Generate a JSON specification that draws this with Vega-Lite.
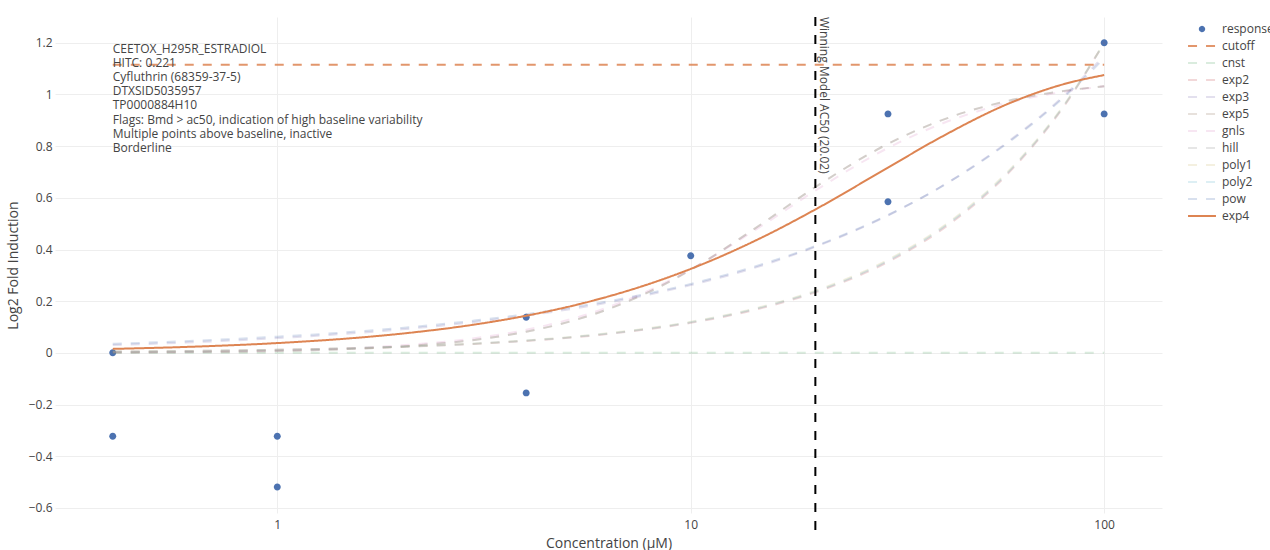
{
  "$schema": "https://vega.github.io/schema/vega-lite/v6.json",
  "width": 1107,
  "height": 496,
  "autosize": {"type": "none"},
  "padding": {"left": 55, "top": 17, "right": 108, "bottom": 37},
  "background": "white",
  "config": {
    "view": {"stroke": null},
    "font": "Open Sans",
    "axis": {"domain": false, "ticks": false, "gridColor": "#eeeeee", "gridWidth": 1, "labelFont": "Open Sans", "labelFontSize": 12, "labelColor": "#444444", "titleFont": "Open Sans", "titleFontSize": 14, "titleColor": "#444444", "titleFontWeight": "normal"},
    "legend": {"labelFont": "Open Sans", "labelFontSize": 12, "labelColor": "#444444"}
  },
  "datasets": {
    "obs": [
      {"series": "response", "conc": 0.4, "resp": 0.0},
      {"series": "response", "conc": 0.4, "resp": -0.323},
      {"series": "response", "conc": 1, "resp": -0.323},
      {"series": "response", "conc": 1, "resp": -0.519},
      {"series": "response", "conc": 4, "resp": 0.138},
      {"series": "response", "conc": 4, "resp": -0.155},
      {"series": "response", "conc": 10, "resp": 0.376},
      {"series": "response", "conc": 30, "resp": 0.925},
      {"series": "response", "conc": 30, "resp": 0.585},
      {"series": "response", "conc": 100, "resp": 1.2},
      {"series": "response", "conc": 100, "resp": 0.925}
    ],
    "fits": [
      {"series": "cutoff", "conc": 0.4, "resp": 1.115},
      {"series": "cutoff", "conc": 100, "resp": 1.115},
      {"series": "cnst", "conc": 0.4, "resp": 0},
      {"series": "cnst", "conc": 100, "resp": 0},
      {"series": "exp2", "conc": 0.4, "resp": 0.0046},
      {"series": "exp2", "conc": 0.6, "resp": 0.0069},
      {"series": "exp2", "conc": 1, "resp": 0.0115},
      {"series": "exp2", "conc": 1.5, "resp": 0.0173},
      {"series": "exp2", "conc": 2, "resp": 0.023},
      {"series": "exp2", "conc": 3, "resp": 0.0346},
      {"series": "exp2", "conc": 4, "resp": 0.046},
      {"series": "exp2", "conc": 6, "resp": 0.069},
      {"series": "exp2", "conc": 8, "resp": 0.093},
      {"series": "exp2", "conc": 10, "resp": 0.116},
      {"series": "exp2", "conc": 15, "resp": 0.175},
      {"series": "exp2", "conc": 20, "resp": 0.234},
      {"series": "exp2", "conc": 30, "resp": 0.352},
      {"series": "exp2", "conc": 40, "resp": 0.471},
      {"series": "exp2", "conc": 60, "resp": 0.712},
      {"series": "exp2", "conc": 80, "resp": 0.955},
      {"series": "exp2", "conc": 100, "resp": 1.2},
      {"series": "exp3", "conc": 0.4, "resp": 0.030},
      {"series": "exp3", "conc": 0.6, "resp": 0.040},
      {"series": "exp3", "conc": 1, "resp": 0.057},
      {"series": "exp3", "conc": 1.5, "resp": 0.075},
      {"series": "exp3", "conc": 2, "resp": 0.091},
      {"series": "exp3", "conc": 3, "resp": 0.119},
      {"series": "exp3", "conc": 4, "resp": 0.144},
      {"series": "exp3", "conc": 6, "resp": 0.188},
      {"series": "exp3", "conc": 8, "resp": 0.227},
      {"series": "exp3", "conc": 10, "resp": 0.262},
      {"series": "exp3", "conc": 15, "resp": 0.340},
      {"series": "exp3", "conc": 20, "resp": 0.410},
      {"series": "exp3", "conc": 30, "resp": 0.532},
      {"series": "exp3", "conc": 40, "resp": 0.640},
      {"series": "exp3", "conc": 60, "resp": 0.830},
      {"series": "exp3", "conc": 80, "resp": 0.995},
      {"series": "exp3", "conc": 100, "resp": 1.15},
      {"series": "exp5", "conc": 0.4, "resp": 0.0014},
      {"series": "exp5", "conc": 0.6, "resp": 0.0029},
      {"series": "exp5", "conc": 1, "resp": 0.0072},
      {"series": "exp5", "conc": 1.5, "resp": 0.0149},
      {"series": "exp5", "conc": 2, "resp": 0.0248},
      {"series": "exp5", "conc": 3, "resp": 0.0501},
      {"series": "exp5", "conc": 4, "resp": 0.0815},
      {"series": "exp5", "conc": 6, "resp": 0.1563},
      {"series": "exp5", "conc": 8, "resp": 0.2387},
      {"series": "exp5", "conc": 10, "resp": 0.3213},
      {"series": "exp5", "conc": 15, "resp": 0.504},
      {"series": "exp5", "conc": 20, "resp": 0.6411},
      {"series": "exp5", "conc": 30, "resp": 0.8089},
      {"series": "exp5", "conc": 40, "resp": 0.8975},
      {"series": "exp5", "conc": 60, "resp": 0.9793},
      {"series": "exp5", "conc": 80, "resp": 1.014},
      {"series": "exp5", "conc": 100, "resp": 1.0319},
      {"series": "gnls", "conc": 0.4, "resp": 0.0019},
      {"series": "gnls", "conc": 0.6, "resp": 0.0039},
      {"series": "gnls", "conc": 1, "resp": 0.0091},
      {"series": "gnls", "conc": 1.5, "resp": 0.018},
      {"series": "gnls", "conc": 2, "resp": 0.0291},
      {"series": "gnls", "conc": 3, "resp": 0.0564},
      {"series": "gnls", "conc": 4, "resp": 0.0891},
      {"series": "gnls", "conc": 6, "resp": 0.1641},
      {"series": "gnls", "conc": 8, "resp": 0.2441},
      {"series": "gnls", "conc": 10, "resp": 0.3231},
      {"series": "gnls", "conc": 15, "resp": 0.4963},
      {"series": "gnls", "conc": 20, "resp": 0.6276},
      {"series": "gnls", "conc": 30, "resp": 0.793},
      {"series": "gnls", "conc": 40, "resp": 0.8838},
      {"series": "gnls", "conc": 60, "resp": 0.9718},
      {"series": "gnls", "conc": 80, "resp": 1.011},
      {"series": "gnls", "conc": 100, "resp": 1.0318},
      {"series": "hill", "conc": 0.4, "resp": 0.0014},
      {"series": "hill", "conc": 0.6, "resp": 0.0029},
      {"series": "hill", "conc": 1, "resp": 0.0072},
      {"series": "hill", "conc": 1.5, "resp": 0.0149},
      {"series": "hill", "conc": 2, "resp": 0.0248},
      {"series": "hill", "conc": 3, "resp": 0.0501},
      {"series": "hill", "conc": 4, "resp": 0.0815},
      {"series": "hill", "conc": 6, "resp": 0.1563},
      {"series": "hill", "conc": 8, "resp": 0.2387},
      {"series": "hill", "conc": 10, "resp": 0.3213},
      {"series": "hill", "conc": 15, "resp": 0.504},
      {"series": "hill", "conc": 20, "resp": 0.6411},
      {"series": "hill", "conc": 30, "resp": 0.8089},
      {"series": "hill", "conc": 40, "resp": 0.8975},
      {"series": "hill", "conc": 60, "resp": 0.9793},
      {"series": "hill", "conc": 80, "resp": 1.014},
      {"series": "hill", "conc": 100, "resp": 1.0319},
      {"series": "poly1", "conc": 0.4, "resp": 0.0048},
      {"series": "poly1", "conc": 0.6, "resp": 0.0072},
      {"series": "poly1", "conc": 1, "resp": 0.012},
      {"series": "poly1", "conc": 1.5, "resp": 0.018},
      {"series": "poly1", "conc": 2, "resp": 0.024},
      {"series": "poly1", "conc": 3, "resp": 0.036},
      {"series": "poly1", "conc": 4, "resp": 0.048},
      {"series": "poly1", "conc": 6, "resp": 0.072},
      {"series": "poly1", "conc": 8, "resp": 0.096},
      {"series": "poly1", "conc": 10, "resp": 0.12},
      {"series": "poly1", "conc": 15, "resp": 0.18},
      {"series": "poly1", "conc": 20, "resp": 0.24},
      {"series": "poly1", "conc": 30, "resp": 0.36},
      {"series": "poly1", "conc": 40, "resp": 0.48},
      {"series": "poly1", "conc": 60, "resp": 0.72},
      {"series": "poly1", "conc": 80, "resp": 0.96},
      {"series": "poly1", "conc": 100, "resp": 1.2},
      {"series": "poly2", "conc": 0.4, "resp": 0.0047},
      {"series": "poly2", "conc": 0.6, "resp": 0.0071},
      {"series": "poly2", "conc": 1, "resp": 0.0118},
      {"series": "poly2", "conc": 1.5, "resp": 0.0177},
      {"series": "poly2", "conc": 2, "resp": 0.0236},
      {"series": "poly2", "conc": 3, "resp": 0.0354},
      {"series": "poly2", "conc": 4, "resp": 0.0472},
      {"series": "poly2", "conc": 6, "resp": 0.0709},
      {"series": "poly2", "conc": 8, "resp": 0.0945},
      {"series": "poly2", "conc": 10, "resp": 0.118},
      {"series": "poly2", "conc": 15, "resp": 0.178},
      {"series": "poly2", "conc": 20, "resp": 0.237},
      {"series": "poly2", "conc": 30, "resp": 0.356},
      {"series": "poly2", "conc": 40, "resp": 0.476},
      {"series": "poly2", "conc": 60, "resp": 0.716},
      {"series": "poly2", "conc": 80, "resp": 0.958},
      {"series": "poly2", "conc": 100, "resp": 1.2},
      {"series": "pow", "conc": 0.4, "resp": 0.035},
      {"series": "pow", "conc": 0.6, "resp": 0.0452},
      {"series": "pow", "conc": 1, "resp": 0.0624},
      {"series": "pow", "conc": 1.5, "resp": 0.0806},
      {"series": "pow", "conc": 2, "resp": 0.0966},
      {"series": "pow", "conc": 3, "resp": 0.1248},
      {"series": "pow", "conc": 4, "resp": 0.1496},
      {"series": "pow", "conc": 6, "resp": 0.1932},
      {"series": "pow", "conc": 8, "resp": 0.2317},
      {"series": "pow", "conc": 10, "resp": 0.2667},
      {"series": "pow", "conc": 15, "resp": 0.3445},
      {"series": "pow", "conc": 20, "resp": 0.413},
      {"series": "pow", "conc": 30, "resp": 0.5335},
      {"series": "pow", "conc": 40, "resp": 0.6397},
      {"series": "pow", "conc": 60, "resp": 0.8263},
      {"series": "pow", "conc": 80, "resp": 0.9905},
      {"series": "pow", "conc": 100, "resp": 1.14},
      {"series": "exp4", "conc": 0.4, "resp": 0.0153},
      {"series": "exp4", "conc": 0.6, "resp": 0.0228},
      {"series": "exp4", "conc": 1, "resp": 0.0378},
      {"series": "exp4", "conc": 1.5, "resp": 0.0562},
      {"series": "exp4", "conc": 2, "resp": 0.0743},
      {"series": "exp4", "conc": 3, "resp": 0.1095},
      {"series": "exp4", "conc": 4, "resp": 0.1436},
      {"series": "exp4", "conc": 6, "resp": 0.2082},
      {"series": "exp4", "conc": 8, "resp": 0.2686},
      {"series": "exp4", "conc": 10, "resp": 0.3249},
      {"series": "exp4", "conc": 15, "resp": 0.4497},
      {"series": "exp4", "conc": 20, "resp": 0.5546},
      {"series": "exp4", "conc": 30, "resp": 0.7171},
      {"series": "exp4", "conc": 40, "resp": 0.8321},
      {"series": "exp4", "conc": 60, "resp": 0.971},
      {"series": "exp4", "conc": 80, "resp": 1.0404},
      {"series": "exp4", "conc": 100, "resp": 1.0752}
    ],
    "notes": [
      {"label": "CEETOX_H295R_ESTRADIOL\nHITC: 0.221\nCyfluthrin (68359-37-5)\nDTXSID5035957\nTP0000884H10\nFlags: Bmd > ac50, indication of high baseline variability\nMultiple points above baseline, inactive\nBorderline"}
    ],
    "ac50": [
      {"label": "Winning Model AC50 (20.02)", "ac50": 20.02}
    ]
  },
  "layer": [
    {
      "data": {"name": "obs"},
      "mark": {"type": "point", "filled": true, "opacity": 1, "size": 926},
      "encoding": {
        "x": {"field": "conc", "type": "quantitative", "scale": {"type": "log", "domain": [0.29, 138], "nice": false}, "axis": {"values": [1, 10, 100], "format": "~r", "title": "Concentration (μM)", "labelPadding": 6, "titlePadding": 6, "grid": true}},
        "y": {"field": "resp", "type": "quantitative", "scale": {"domain": [-0.62, 1.3], "nice": false, "zero": false}, "axis": {"values": [-0.6, -0.4, -0.2, 0, 0.2, 0.4, 0.6, 0.8, 1, 1.2], "format": "~r", "title": "Log2 Fold Induction", "labelPadding": 3, "titlePadding": 8}},
        "shape": {"field": "series", "type": "nominal", "scale": {"domain": ["response", "cutoff", "cnst", "exp2", "exp3", "exp5", "gnls", "hill", "poly1", "poly2", "pow", "exp4"], "range": ["M-0.23,0a0.23,0.23 0 1,0 0.46,0a0.23,0.23 0 1,0 -0.46,0Z", "M-1.47,0H1.47", "M-1.47,0H1.47", "M-1.47,0H1.47", "M-1.47,0H1.47", "M-1.47,0H1.47", "M-1.47,0H1.47", "M-1.47,0H1.47", "M-1.47,0H1.47", "M-1.47,0H1.47", "M-1.47,0H1.47", "M-1.47,0H1.47"]}},
        "color": {"field": "series", "type": "nominal", "scale": {"domain": ["response", "cutoff", "cnst", "exp2", "exp3", "exp5", "gnls", "hill", "poly1", "poly2", "pow", "exp4"], "range": ["#4C72B0", "rgba(221,132,82,0.85)", "rgba(85,168,104,0.22)", "rgba(196,78,82,0.22)", "rgba(129,114,179,0.22)", "rgba(147,120,96,0.22)", "rgba(218,139,195,0.22)", "rgba(140,140,140,0.22)", "rgba(204,185,116,0.22)", "rgba(100,181,205,0.22)", "rgba(76,114,176,0.22)", "#DD8452"]},
          "legend": {"title": null, "orient": "none", "legendX": 1136.5, "legendY": 1.5, "padding": 0, "symbolSize": 361, "symbolStrokeWidth": 2, "rowPadding": -10, "labelOffset": 9.5}
        }
      }
    },
    {
      "data": {"name": "fits"},
      "mark": {"type": "line", "strokeWidth": 2, "interpolate": "monotone"},
      "encoding": {
        "x": {"field": "conc", "type": "quantitative"},
        "y": {"field": "resp", "type": "quantitative"},
        "color": {"field": "series", "type": "nominal"},
        "strokeDash": {"field": "series", "type": "nominal", "scale": {"domain": ["response", "cutoff", "cnst", "exp2", "exp3", "exp5", "gnls", "hill", "poly1", "poly2", "pow", "exp4"], "range": [[1, 0], [9, 9], [9, 9], [9, 9], [9, 9], [9, 9], [9, 9], [9, 9], [9, 9], [9, 9], [9, 9], [1, 0]]}}
      }
    },
    {
      "data": {"name": "ac50"},
      "mark": {"type": "rule", "color": "black", "strokeWidth": 2, "strokeDash": [9, 9]},
      "encoding": {
        "x": {"field": "ac50", "type": "quantitative"},
        "y": {"datum": 1.3},
        "y2": {"datum": -0.693}
      }
    },
    {
      "data": {"name": "ac50"},
      "mark": {"type": "text", "angle": 90, "align": "left", "baseline": "bottom", "font": "Open Sans", "fontSize": 12, "color": "#444444", "dy": -1.5},
      "encoding": {
        "x": {"field": "ac50", "type": "quantitative"},
        "y": {"datum": 1.3},
        "text": {"field": "label"}
      }
    },
    {
      "data": {"name": "notes"},
      "mark": {"type": "text", "align": "left", "baseline": "top", "font": "Open Sans", "fontSize": 12, "color": "#444444", "lineBreak": "\n", "lineHeight": 14.2},
      "encoding": {
        "x": {"datum": 0.4},
        "y": {"datum": 1.197},
        "text": {"field": "label"}
      }
    }
  ]
}
